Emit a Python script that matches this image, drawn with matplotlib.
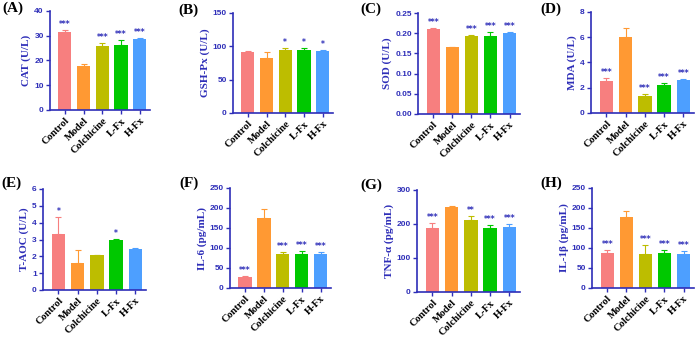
import numpy as np
import matplotlib.pyplot as plt

groups = ["Control", "Model", "Colchicine", "L-Fx", "H-Fx"]
colors = ["#F77F7F", "#FF9933", "#BDBD00", "#00C800", "#4D9FFF"]

cat_mean = [31.6, 17.7, 26.0, 26.3, 28.7]
cat_err = [0.6, 1.0, 1.0, 2.0, 0.4]
cat_sig = ["***", "", "***", "***", "***"]

gsh_mean = [92, 83, 95, 94, 93]
gsh_err = [1, 8, 2, 3, 2]
gsh_sig = ["", "", "*", "*", "*"]

sod_mean = [0.210, 0.165, 0.193, 0.194, 0.201]
sod_err = [0.002, 0.002, 0.002, 0.010, 0.002]
sod_sig = ["***", "", "***", "***", "***"]

mda_mean = [2.55, 6.0, 1.35, 2.2, 2.6]
mda_err = [0.2, 0.75, 0.15, 0.15, 0.1]
mda_sig = ["***", "", "***", "***", "***"]

taoc_mean = [3.3, 1.6, 2.05, 2.95, 2.45]
taoc_err = [1.05, 0.75, 0.05, 0.1, 0.02]
taoc_sig = ["*", "", "", "*", ""]

il6_mean = [28, 175, 86, 84, 84]
il6_err = [3, 22, 5, 8, 5]
il6_sig = ["***", "", "***", "***", "***"]

tnf_mean = [187, 250, 213, 188, 190]
tnf_err = [15, 3, 10, 10, 10]
tnf_sig = ["***", "", "**", "***", "***"]

il1b_mean = [87, 178, 86, 87, 86]
il1b_err = [8, 15, 22, 8, 6]
il1b_sig = ["***", "", "***", "***", "***"]

W, H = 700, 337
axc = "#2E2EB8"

fig = plt.figure(figsize=(7, 3.37), dpi=100)


def panel(letter, lpos, box, mean, err, sig, ylabel, yticks, fmt="%g"):
    x0, x1, ytop, ybot = box
    ax = fig.add_axes([x0 / W, 1 - ybot / H, (x1 - x0) / W, (ybot - ytop) / H])
    x = np.arange(len(groups))
    ax.bar(x, mean, width=0.7, color=colors, zorder=2)
    for i in range(len(groups)):
        ax.errorbar(x[i], mean[i], yerr=[[0], [err[i]]], color=colors[i],
                    capsize=2.5, elinewidth=0.8, capthick=0.8, zorder=1)
        if sig[i]:
            ax.text(x[i], mean[i] + err[i] + yticks[-1] * 0.01, sig[i],
                    ha="center", va="bottom", color=axc, fontsize=5.5,
                    fontweight="bold")
    ax.set_xlim(-0.8, 4.55)
    ax.set_ylim(0, yticks[-1])
    ax.set_yticks(yticks)
    ax.set_yticklabels([fmt % v for v in yticks], color=axc, fontsize=6,
                       fontweight="bold", family="Liberation Sans")
    ax.set_xticks(x)
    ax.set_xticklabels(groups, rotation=45, ha="right", rotation_mode="anchor",
                       fontsize=7.5, fontweight="bold", family="Liberation Serif",
                       color="black")
    for s in ["top", "right"]:
        ax.spines[s].set_visible(False)
    for s in ["left", "bottom"]:
        ax.spines[s].set_color(axc)
        ax.spines[s].set_linewidth(1.2)
    ax.tick_params(color=axc, width=1.0, length=3, pad=1.5)
    ax.set_ylabel(ylabel, color=axc, fontsize=8, fontweight="bold",
                  family="Liberation Serif", labelpad=2)
    fig.text(lpos[0] / W, 1 - lpos[1] / H, "(%s)" % letter, fontsize=11,
             fontweight="bold", family="Liberation Serif", va="center",
             ha="left")
    return ax


panel("A", (2, 8), (50, 150, 11, 110), cat_mean, cat_err, cat_sig,
      "CAT (U/L)", [0, 10, 20, 30, 40])
panel("B", (178, 10), (233, 333, 13, 113), gsh_mean, gsh_err, gsh_sig,
      "GSH-Px (U/L)", [0, 50, 100, 150])
panel("C", (360, 9), (418, 520, 13, 114), sod_mean, sod_err, sod_sig,
      "SOD (U/L)", [0, 0.05, 0.10, 0.15, 0.20, 0.25], fmt="%.2f")
panel("D", (540, 9), (591, 694, 12, 113), mda_mean, mda_err, mda_sig,
      "MDA (U/L)", [0, 2, 4, 6, 8])
panel("E", (1, 183), (43, 146, 189, 290), taoc_mean, taoc_err, taoc_sig,
      "T-AOC (U/L)", [0, 1, 2, 3, 4, 5, 6])
panel("F", (179, 183), (230, 331, 188, 288), il6_mean, il6_err, il6_sig,
      "IL-6 (pg/mL)", [0, 50, 100, 150, 200, 250])
panel("G", (360, 185), (417, 520, 190, 292), tnf_mean, tnf_err, tnf_sig,
      "TNF-\u03b1 (pg/mL)", [0, 100, 200, 300])
panel("H", (540, 183), (592, 694, 188, 288), il1b_mean, il1b_err, il1b_sig,
      "IL-1\u03b2 (pg/mL)", [0, 50, 100, 150, 200, 250])

fig.savefig("out.png", dpi=100)
